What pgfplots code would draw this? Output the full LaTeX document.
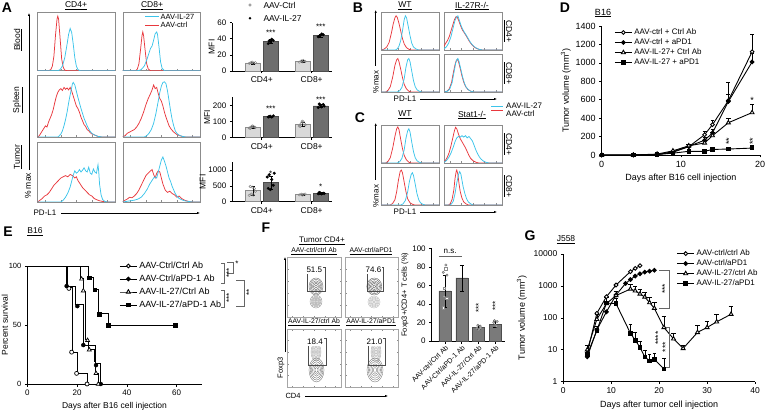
\documentclass[border=0pt]{standalone}
\usepackage{fontspec}
\setmainfont{Liberation Sans}
\usepackage{pgfplots}
\pgfplotsset{compat=1.18}
\usetikzlibrary{arrows.meta}
\definecolor{hred}{HTML}{E8383D}
\definecolor{hcyan}{HTML}{3CC4EA}
\definecolor{lbar}{HTML}{D9D9D9}
\definecolor{dbar}{HTML}{6E6E6E}
\definecolor{fbar}{HTML}{7A7A7A}
\newcommand{\fs}[1]{\fontsize{#1}{#1}\selectfont}
\pgfplotsset{
  every axis/.append style={font=\fs{7.5}, /pgf/number format/assume math mode=true, /pgf/number format/1000 sep={}},
  histo/.style={scale only axis, anchor=south west, xmin=0, xmax=100, ymin=0, ymax=100,
    xtick={10,30,50,70,90}, xticklabels={}, ytick=\empty, major tick length=1.5pt,
    axis line style={black!45}, tick style={black!45, line width=0.3pt}},
  hisred/.style={hred, line width=0.75pt},
  hiscyan/.style={hcyan, line width=0.75pt},
  gp/.style={scale only axis, anchor=south west, axis x line*=bottom, axis y line*=left,
    axis line style={-, line width=0.6pt}, tick style={line width=0.6pt, black}, tick align=outside,
    major tick length=2.5pt, clip=false,
    xticklabel style={font=\fs{8}}, yticklabel style={font=\fs{8}}, label style={font=\fs{8.5}}},
  dl/.style={black, line width=0.9pt, mark size=1.9pt},
  ebar/.style={draw=none, forget plot, error bars/.cd, y dir=both, y explicit, error bar style={black, line width=0.5pt}, error mark options={rotate=90, mark size=2pt, black}},
}
\newcommand{\histo}[6]{%
  \begin{axis}[histo, at={(#1pt,-#2pt)}, width=#3pt, height=#4pt]
  \addplot[hisred] coordinates {#5};
  \addplot[hiscyan] coordinates {#6};
  \end{axis}}
\newcommand{\cbox}[4]{%
  \begin{axis}[histo, at={(#1pt,-#2pt)}, width=#3pt, height=#4pt, ytick={20,40,60,80}, yticklabels={}, axis line style={black!35}]
  \addplot[draw=none] coordinates {(50,50)};
  \end{axis}}
\newcommand{\blob}[5]{%
  \foreach \s in {1,0.84,0.68,0.52,0.36,0.2} {\draw[#5, line width=0.35pt] (#1pt,-#2pt) ellipse [x radius=\s*#3pt, y radius=\s*#4pt];}}
\begin{document}
\begin{tikzpicture}
\useasboundingbox (0pt,0pt) rectangle (766pt,-414pt);
% ================= PANEL A =================
\node[font=\fs{14}\bfseries] at (7pt,-8pt) {A};
\node[font=\fs{8.5}] at (76pt,-6pt) {\underline{CD4+}};
\node[font=\fs{8.5}] at (152pt,-6pt) {\underline{CD8+}};
\node[font=\fs{8.5}, rotate=90] at (18pt,-40pt) {\underline{Blood}};
\node[font=\fs{8.5}, rotate=90] at (18pt,-100pt) {\underline{Spleen}};
\node[font=\fs{8.5}, rotate=90] at (18pt,-157pt) {\underline{Tumor}};
\node[font=\fs{8.5}, rotate=90] at (28pt,-186pt) {\% max};
\draw[-{Latex[length=3pt]}, line width=0.5pt] (29pt,-170pt) -- (29pt,-13pt);
\node[font=\fs{8}] at (45pt,-213pt) {PD-L1};
\draw[-{Latex[length=3pt]}, line width=0.5pt] (61pt,-213pt) -- (200pt,-213pt);
% Blood
\histo{37.7}{70.7}{77.3}{58.7}
 {(0,0)(14,0)(17,2)(19,8)(21,25)(23,60)(25,88)(26,93)(27,88)(29,55)(31,20)(33,6)(35,1)(38,0)(100,0)}
 {(0,0)(26,0)(29,2)(32,8)(35,22)(38,45)(40,62)(42,72)(44,65)(46,45)(48,22)(50,8)(52,2)(55,0)(100,0)}
\histo{122.7}{70.7}{77.3}{58.7}
 {(0,0)(17,0)(19,3)(21,12)(23,35)(25,60)(26,66)(27,60)(29,35)(31,12)(33,3)(36,0)(100,0)}
 {(0,0)(20,0)(24,2)(28,8)(31,18)(34,30)(36,38)(38,42)(40,52)(42,63)(44,66)(45,62)(47,40)(49,15)(51,4)(54,0)(100,0)}
% Spleen
\histo{37.7}{137}{77.3}{62}
 {(0,0)(2,2)(4,6)(6,10)(8,14)(10,18)(12,16)(14,24)(16,30)(18,36)(20,44)(22,55)(24,65)(26,72)(28,76)(30,78)(32,75)(34,80)(36,77)(38,79)(40,76)(42,80)(44,74)(46,66)(48,58)(50,50)(52,46)(54,40)(56,32)(58,26)(60,20)(62,17)(64,12)(66,10)(68,7)(70,5)(74,3)(78,1)(82,0)(100,0)}
 {(0,0)(26,0)(28,2)(30,5)(32,10)(34,18)(36,28)(38,40)(40,55)(42,68)(44,80)(45,86)(46,88)(48,84)(50,74)(52,64)(54,55)(56,46)(58,38)(60,30)(62,24)(64,18)(66,13)(68,9)(70,6)(74,3)(78,1)(84,0)(100,0)}
\histo{122.7}{137}{77.3}{62}
 {(0,0)(3,2)(6,6)(9,8)(12,10)(15,12)(18,16)(21,22)(24,30)(27,40)(30,52)(33,62)(36,70)(38,76)(40,84)(42,78)(44,80)(46,70)(48,62)(50,58)(52,50)(54,40)(56,32)(58,25)(60,18)(63,12)(66,8)(70,4)(74,2)(80,0)(100,0)}
 {(0,0)(28,0)(31,2)(34,6)(37,12)(40,22)(43,38)(46,58)(48,72)(50,82)(52,88)(54,89)(56,86)(58,74)(60,58)(62,42)(64,28)(66,18)(68,10)(70,6)(73,3)(77,1)(82,0)(100,0)}
% Tumor
\histo{37.7}{202}{77.3}{60}
 {(0,0)(3,3)(6,6)(9,10)(12,12)(15,16)(18,22)(21,28)(24,32)(27,36)(30,40)(33,42)(36,44)(39,42)(42,46)(45,44)(48,40)(50,42)(52,36)(55,30)(58,24)(61,20)(64,16)(67,12)(70,10)(73,6)(76,4)(80,2)(84,1)(88,0)(100,0)}
 {(0,0)(30,0)(33,3)(36,8)(39,15)(42,25)(44,35)(46,45)(48,52)(50,48)(52,50)(54,54)(56,50)(58,53)(60,57)(62,52)(64,50)(66,58)(68,48)(70,46)(72,55)(74,50)(76,48)(77,55)(78,62)(79,50)(80,30)(82,12)(84,4)(87,1)(90,0)(100,0)}
\histo{122.7}{202}{77.3}{60}
 {(0,0)(3,3)(6,5)(9,8)(12,7)(15,10)(18,14)(21,20)(24,28)(27,36)(30,44)(33,48)(36,52)(38,54)(40,46)(42,40)(44,48)(46,52)(48,50)(50,40)(52,30)(55,20)(58,16)(61,18)(64,14)(67,12)(70,8)(73,10)(76,6)(80,3)(85,1)(90,0)(100,0)}
 {(0,0)(5,1)(10,2)(15,3)(20,5)(24,8)(28,14)(32,22)(35,30)(38,36)(40,40)(42,42)(44,40)(46,50)(48,60)(50,70)(52,75)(54,68)(56,60)(58,50)(60,40)(62,34)(64,26)(66,20)(68,14)(70,10)(73,6)(76,4)(80,2)(85,1)(90,0)(100,0)}
% A histogram legend
\draw[hcyan, line width=0.8pt] (145pt,-16.7pt) -- (159pt,-16.7pt);
\node[anchor=west, font=\fs{7.5}, inner sep=1pt] at (159.5pt,-16.7pt) {AAV-IL-27};
\draw[hred, line width=0.8pt] (145pt,-25pt) -- (159pt,-25pt);
\node[anchor=west, font=\fs{7.5}, inner sep=1pt] at (159.5pt,-25pt) {AAV-ctrl};
% A bar legend
\draw[black!50, line width=0.5pt] (250pt,-5pt) circle (1.3pt);
\node[anchor=west, font=\fs{8.5}] at (260pt,-5pt) {AAV-Ctrl};
\fill[black] (250pt,-18.3pt) circle (1.4pt);
\node[anchor=west, font=\fs{8.5}] at (260pt,-18.3pt) {AAV-IL-27};
% A bar chart 1
\begin{axis}[gp, at={(232.3pt,-71pt)}, width=99.4pt, height=48.3pt, xmin=-0.59, xmax=1.4, ymin=0, ymax=60,
  ytick={0,20,40,60}, xtick={0,1}, xticklabels={CD4+,CD8+}, xticklabel style={font=\fs{8.5}}, ylabel={MFI}, ylabel shift=-4pt]
\addplot[ybar, bar width=15pt, bar shift=-9pt, fill=lbar, draw=black!45] coordinates {(0,10)(1,12)};
\addplot[ybar, bar width=15pt, bar shift=9pt, fill=dbar, draw=black!70] coordinates {(0,37)(1,44)};
\addplot[ebar] coordinates {(-0.18,10) +- (0,1) (0.82,12) +- (0,1.2) (0.18,37) +- (0,2.5) (1.18,44) +- (0,1.8)};
\addplot[only marks, mark=o, mark size=1.3pt, black!50] coordinates {(-0.25,9.5)(-0.21,10.6)(-0.17,9.8)(-0.13,10.3)(-0.19,10.9)(0.75,11)(0.79,12.6)(0.83,13)(0.87,12)(0.81,11.5)};
\addplot[only marks, mark=*, mark size=1.3pt, black] coordinates {(0.13,34)(0.17,36.5)(0.23,38)(0.2,39.5)(0.15,37.5)(1.13,42.5)(1.17,44)(1.23,45)(1.2,46)(1.15,43)};
\node[font=\fs{8}] at (axis cs:0.18,48) {***};
\node[font=\fs{8}] at (axis cs:1.18,55) {***};
\end{axis}
% A bar chart 2
\begin{axis}[gp, at={(232.3pt,-137.7pt)}, width=99.4pt, height=40.5pt, xmin=-0.59, xmax=1.4, ymin=0, ymax=250,
  ytick={0,100,200}, xtick={0,1}, xticklabels={CD4+,CD8+}, xticklabel style={font=\fs{8.5}}, ylabel={MFI}, ylabel shift=-4pt]
\addplot[ybar, bar width=15pt, bar shift=-9pt, fill=lbar, draw=black!45] coordinates {(0,65)(1,82)};
\addplot[ybar, bar width=15pt, bar shift=9pt, fill=dbar, draw=black!70] coordinates {(0,131)(1,196)};
\addplot[ebar] coordinates {(-0.18,65) +- (0,6) (0.82,82) +- (0,12) (0.18,131) +- (0,4) (1.18,196) +- (0,8)};
\addplot[only marks, mark=o, mark size=1.3pt, black!50] coordinates {(-0.25,60)(-0.21,66)(-0.17,70)(-0.13,63)(-0.19,72)(-0.23,58)(0.75,72)(0.79,88)(0.83,98)(0.87,80)(0.81,102)(0.77,70)};
\addplot[only marks, mark=*, mark size=1.3pt, black] coordinates {(0.13,128)(0.17,133)(0.23,135)(0.2,127)(0.15,131)(1.13,186)(1.17,200)(1.23,205)(1.2,190)(1.15,208)(1.25,195)};
\node[font=\fs{8}] at (axis cs:0.18,180) {***};
\node[font=\fs{8}] at (axis cs:1.18,237) {***};
\end{axis}
% A bar chart 3
\begin{axis}[gp, at={(232.3pt,-201.7pt)}, width=99.4pt, height=39.6pt, xmin=-0.59, xmax=1.4, ymin=0, ymax=1250,
  ytick={0,500,1000}, xtick={0,1}, xticklabels={CD4+,CD8+}, xticklabel style={font=\fs{8.5}}, ylabel={MFI}, ylabel shift=-4pt]
\addplot[ybar, bar width=15pt, bar shift=-9pt, fill=lbar, draw=black!45] coordinates {(0,350)(1,230)};
\addplot[ybar, bar width=15pt, bar shift=9pt, fill=dbar, draw=black!70] coordinates {(0,600)(1,265)};
\addplot[ebar] coordinates {(-0.18,350) +- (0,140) (0.82,230) +- (0,20) (0.18,600) +- (0,210) (1.18,265) +- (0,25)};
\addplot[only marks, mark=o, mark size=1.3pt, black!50] coordinates {(-0.25,200)(-0.21,240)(-0.17,210)(-0.13,330)(-0.19,460)(-0.23,480)(-0.15,420)(0.75,215)(0.79,235)(0.83,225)(0.87,240)(0.81,210)};
\addplot[only marks, mark=*, mark size=1.3pt, black] coordinates {(0.13,420)(0.17,380)(0.23,520)(0.2,700)(0.15,850)(0.25,900)(0.11,780)(1.13,250)(1.17,280)(1.23,270)(1.2,245)(1.15,290)(1.25,260)};
\node[font=\fs{8}] at (axis cs:0.18,880) {*};
\node[font=\fs{8}] at (axis cs:1.18,480) {*};
\end{axis}
% ================= PANEL B / C =================
\node[font=\fs{14}\bfseries] at (358pt,-8pt) {B};
\node[font=\fs{8.5}] at (405pt,-6pt) {\underline{WT}};
\node[font=\fs{8.5}] at (472pt,-6pt) {\underline{IL-27R-/-}};
\node[font=\fs{8.5}, rotate=-90] at (508pt,-31pt) {\underline{CD4+}};
\node[font=\fs{8.5}, rotate=-90] at (508pt,-73pt) {\underline{CD8+}};
\draw[-{Latex[length=3pt]}, line width=0.5pt] (375.7pt,-66pt) -- (375.7pt,-10pt);
\node[font=\fs{8}, rotate=90] at (376pt,-82pt) {\%max};
\node[font=\fs{8}] at (405pt,-99pt) {PD-L1};
\draw[-{Latex[length=3pt]}, line width=0.5pt] (420pt,-99pt) -- (497pt,-99pt);
\histo{381}{50}{58}{38}
 {(0,0)(5,2)(10,8)(14,20)(18,45)(21,68)(24,85)(26,90)(28,86)(31,70)(34,50)(37,30)(40,16)(44,6)(48,2)(52,0)(100,0)}
 {(0,0)(25,0)(28,3)(31,10)(34,25)(37,50)(40,80)(42,90)(44,85)(47,62)(50,38)(53,18)(56,8)(60,3)(65,0)(100,0)}
\histo{444}{50}{58}{38}
 {(0,10)(3,18)(6,25)(9,35)(12,50)(15,65)(18,80)(21,88)(23,86)(26,75)(29,62)(32,52)(35,45)(38,38)(41,30)(44,22)(48,14)(52,8)(56,4)(60,2)(66,0)(100,0)}
 {(0,3)(4,8)(8,18)(12,35)(16,60)(19,78)(22,88)(24,90)(26,80)(29,66)(32,55)(35,47)(38,40)(41,32)(44,24)(48,15)(52,9)(56,5)(60,2)(66,0)(100,0)}
\histo{381}{92}{58}{38}
 {(0,0)(8,0)(12,4)(16,14)(20,38)(24,70)(27,85)(29,88)(31,80)(34,60)(37,38)(40,20)(44,8)(48,2)(52,0)(100,0)}
 {(0,0)(28,0)(32,3)(36,12)(40,35)(43,65)(46,85)(48,88)(50,80)(53,55)(56,30)(59,14)(62,6)(66,2)(70,0)(100,0)}
\histo{444}{92}{58}{38}
 {(0,0)(5,2)(9,8)(13,25)(16,50)(19,72)(21,82)(23,86)(25,80)(28,62)(31,42)(34,26)(37,15)(41,7)(45,3)(50,0)(100,0)}
 {(0,0)(6,2)(10,8)(14,25)(17,50)(20,75)(22,85)(24,88)(26,80)(29,60)(32,40)(35,24)(38,13)(42,6)(46,2)(52,0)(100,0)}
% legend B/C
\draw[hcyan, line width=0.8pt] (491pt,-106pt) -- (503pt,-106pt);
\node[anchor=west, font=\fs{8}, inner sep=1pt] at (505pt,-106pt) {AAV-IL-27};
\draw[hred, line width=0.8pt] (491pt,-110pt) -- (503pt,-110pt);
\node[anchor=west, font=\fs{8}, inner sep=1pt] at (505pt,-114pt) {AAV-ctrl};
% C
\node[font=\fs{14}\bfseries] at (360pt,-118pt) {C};
\node[font=\fs{8.5}] at (405pt,-115pt) {\underline{WT}};
\node[font=\fs{8.5}] at (472pt,-115pt) {\underline{Stat1-/-}};
\node[font=\fs{8.5}, rotate=-90] at (508pt,-144pt) {\underline{CD4+}};
\node[font=\fs{8.5}, rotate=-90] at (508pt,-186pt) {\underline{CD8+}};
\draw[-{Latex[length=3pt]}, line width=0.5pt] (375.7pt,-180pt) -- (375.7pt,-123pt);
\node[font=\fs{8}, rotate=90] at (376pt,-196pt) {\%max};
\node[font=\fs{8}] at (405pt,-212pt) {PD-L1};
\draw[-{Latex[length=3pt]}, line width=0.5pt] (420pt,-212pt) -- (497pt,-212pt);
\histo{381}{163}{58}{38}
 {(0,0)(8,0)(12,4)(16,14)(20,38)(24,70)(27,90)(29,95)(31,88)(34,62)(37,38)(40,20)(44,8)(48,2)(52,0)(100,0)}
 {(0,0)(28,0)(32,3)(36,12)(40,35)(43,65)(46,85)(48,90)(50,82)(53,55)(56,30)(59,14)(62,6)(66,2)(70,0)(100,0)}
\histo{444}{163}{58}{38}
 {(0,3)(3,8)(6,16)(9,28)(12,45)(15,65)(18,85)(20,94)(22,90)(25,76)(28,64)(31,56)(34,48)(37,40)(40,30)(43,20)(46,12)(50,6)(55,2)(60,0)(100,0)}
 {(0,2)(4,6)(8,14)(12,26)(16,42)(19,56)(22,66)(25,70)(28,68)(31,72)(34,68)(37,72)(40,66)(43,70)(46,64)(49,58)(52,46)(55,34)(58,24)(61,16)(64,10)(68,5)(72,2)(78,0)(100,0)}
\histo{381}{205}{58}{38}
 {(0,0)(16,0)(20,4)(24,14)(27,35)(30,65)(33,88)(35,92)(37,85)(40,60)(43,35)(46,16)(50,6)(54,2)(58,0)(100,0)}
 {(0,0)(34,0)(38,3)(42,12)(46,35)(49,62)(52,80)(54,85)(56,78)(59,55)(62,30)(65,14)(68,6)(72,2)(76,0)(100,0)}
\histo{444}{205}{58}{38}
 {(0,0)(8,0)(11,4)(14,15)(17,40)(19,70)(21,88)(22,92)(24,80)(26,55)(28,35)(31,18)(34,8)(38,3)(42,0)(100,0)}
 {(0,0)(10,0)(13,3)(16,10)(19,30)(22,58)(25,80)(27,88)(29,82)(31,65)(33,48)(36,30)(39,16)(42,8)(46,3)(50,0)(100,0)}
% ================= PANEL D =================
\node[font=\fs{14}\bfseries] at (565pt,-8pt) {D};
\node[font=\fs{9}] at (603pt,-13pt) {\underline{B16}};
\begin{axis}[gp, at={(601.7pt,-155pt)}, width=158.3pt, height=129pt, xmin=0, xmax=20, ymin=0, ymax=1400,
  xtick={0,10,20}, ytick={0,200,...,1400}, xlabel={Days after B16 cell injection}, ylabel={Tumor volume (mm\textsuperscript{3})},
  xticklabel style={font=\fs{9}}, yticklabel style={font=\fs{9}}, label style={font=\fs{9}}, ylabel shift=-2pt,
  legend style={draw=none, fill=none, at={(0.06,1.01)}, anchor=north west, font=\fs{8}, row sep=-1.3pt}, legend cell align=left]
\addplot[dl, mark=*, mark options={fill=white}, error bars/.cd, y dir=plus, y explicit, error bar style={line width=0.5pt}] coordinates {(0,0)+-(0,0) (4,0)+-(0,0) (7,5)+-(0,3) (9,30)+-(0,10) (11,90)+-(0,20) (13,220)+-(0,40) (14,330)+-(0,50) (16,590)+-(0,200) (19,1120)+-(0,190)};
\addlegendentry{AAV-ctrl + Ctrl Ab}
\addplot[dl, mark=*, error bars/.cd, y dir=plus, y explicit, error bar style={line width=0.5pt}] coordinates {(0,0)+-(0,0) (4,0)+-(0,0) (7,5)+-(0,3) (9,35)+-(0,10) (11,95)+-(0,20) (13,160)+-(0,30) (14,240)+-(0,40) (16,580)+-(0,80) (19,1010)+-(0,100)};
\addlegendentry{AAV-ctrl + aPD1}
\addplot[dl, mark=triangle*, mark size=2.3pt, mark options={fill=white}, error bars/.cd, y dir=plus, y explicit, error bar style={line width=0.5pt}] coordinates {(0,0)+-(0,0) (4,0)+-(0,0) (7,10)+-(0,3) (9,45)+-(0,10) (11,100)+-(0,20) (13,130)+-(0,30) (14,210)+-(0,40) (16,350)+-(0,50) (19,460)+-(0,90)};
\addlegendentry{AAV-IL-27+ Ctrl Ab}
\addplot[dl, mark=square*, mark size=1.7pt, error bars/.cd, y dir=plus, y explicit, error bar style={line width=0.5pt}] coordinates {(0,0)+-(0,0) (4,0)+-(0,0) (7,5)+-(0,2) (9,20)+-(0,5) (11,40)+-(0,8) (13,40)+-(0,10) (14,60)+-(0,12) (16,65)+-(0,15) (19,75)+-(0,30)};
\addlegendentry{AAV-IL-27 + aPD1}
\node[font=\fs{9}] at (axis cs:19,590) {*};
\node[font=\fs{9}, rotate=90] at (axis cs:16.1,150) {**};
\node[font=\fs{9}, rotate=90] at (axis cs:19.1,150) {**};
\end{axis}
% ================= PANEL E =================
\node[font=\fs{14}\bfseries] at (8pt,-232pt) {E};
\node[font=\fs{8.5}] at (35pt,-232pt) {\underline{B16}};
\begin{axis}[gp, at={(27.3pt,-384pt)}, width=174.3pt, height=118pt, xmin=0, xmax=70, ymin=0, ymax=100,
  xtick={0,20,40,60}, ytick={0,50,100}, xlabel={Days after B16 cell injection}, ylabel={Percent survival},
  yticklabel style={font=\fs{7.5}}, ylabel shift=-6pt,
  legend style={draw=none, fill=none, at={(0.51,1.07)}, anchor=north west, font=\fs{9}, row sep=1pt}, legend cell align=left]
\addlegendimage{dl, mark=*, mark options={fill=white}}
\addlegendentry{AAV-Ctrl/Ctrl Ab}
\addlegendimage{dl, mark=*}
\addlegendentry{AAV-Ctrl/aPD-1 Ab}
\addlegendimage{dl, mark=triangle*, mark size=2.3pt, mark options={fill=white}}
\addlegendentry{AAV-IL-27/Ctrl Ab}
\addlegendimage{dl, mark=square*, mark size=1.8pt}
\addlegendentry{AAV-IL-27/aPD-1 Ab}
\addplot[black, line width=1pt, forget plot] coordinates {(0,100)(16,100)(16,82)(18,82)(18,27)(20,27)(20,9)(24,9)(24,0)};
\addplot[black, line width=1pt, forget plot] coordinates {(0,100)(15.8,100)(15.8,83)(19.5,83)(19.5,67)(22.5,67)(22.5,33)(27.5,33)(27.5,17)(29.5,17)(29.5,0)};
\addplot[black, line width=1pt, forget plot] coordinates {(0,100)(21.5,100)(21.5,89)(22.5,89)(22.5,78)(23.5,78)(23.5,38)(24.5,38)(24.5,29)(27,29)(27,19)(27.5,19)(27.5,9)(28.5,9)(28.5,0)};
\addplot[black, line width=1pt, forget plot] coordinates {(0,100)(24.5,100)(24.5,90)(26.5,90)(26.5,80)(28.5,80)(28.5,60)(32.5,60)(32.5,50)(60,50)};
\addplot[only marks, mark=*, mark size=2pt, mark options={fill=white, line width=0.7pt}, forget plot] coordinates {(16.7,81)(17.8,27)(19.8,9)(24,0)};
\addplot[only marks, mark=*, mark size=2pt, forget plot] coordinates {(15.8,83)(20.1,66)(22.5,33)(27.6,16)(29.5,0)};
\addplot[only marks, mark=triangle*, mark size=2.3pt, mark options={fill=white, line width=0.7pt}, forget plot] coordinates {(21.8,89)(22.5,79)(24.2,37)(24.9,29)(27.6,9)(28.5,0)};
\addplot[only marks, mark=square*, mark size=1.8pt, forget plot] coordinates {(24.9,90)(27,80)(28.8,59)(32.5,50)(59.3,50)};
\end{axis}
\begin{scope}[black!60, line width=0.4pt]
\draw (221pt,-263pt) -- (224pt,-263pt) -- (224pt,-283pt) -- (221pt,-283pt);
\draw (227pt,-262pt) -- (233pt,-262pt) -- (233pt,-273pt) -- (227pt,-273pt);
\draw (221pt,-290pt) -- (224pt,-290pt) -- (224pt,-307pt) -- (221pt,-307pt);
\draw (236pt,-280pt) -- (244pt,-280pt) -- (244pt,-306pt) -- (236pt,-306pt);
\end{scope}
\node[font=\fs{8}, rotate=90] at (229pt,-273pt) {***};
\node[font=\fs{8}] at (237pt,-264pt) {*};
\node[font=\fs{8}, rotate=90] at (229pt,-298pt) {***};
\node[font=\fs{8}, rotate=90] at (249pt,-292pt) {**};
% ================= PANEL F =================
\node[font=\fs{14}\bfseries] at (266pt,-228pt) {F};
\node[font=\fs{8}] at (322pt,-241pt) {\underline{Tumor CD4+}};
\node[font=\fs{6.8}] at (314pt,-251pt) {\underline{AAV-ctrl/ctrl Ab}};
\node[font=\fs{6.8}] at (371pt,-251pt) {\underline{AAV-ctrl/aPD1}};
\node[font=\fs{6.8}] at (314pt,-322.5pt) {\underline{AAV-IL-27/ctrl Ab}};
\node[font=\fs{6.8}] at (371pt,-322.5pt) {\underline{AAV-IL-27/aPD1}};
\cbox{287}{317}{54}{60}
\cbox{345}{317}{53}{60}
\cbox{287}{387}{54}{58}
\cbox{345}{387}{53}{58}
\blob{316}{286.5}{7}{8.5}{black!62}
\blob{316}{301.5}{6}{6.5}{black!45}
\blob{374.3}{286.5}{7.5}{8.5}{black!68}
\blob{374}{302}{6}{6}{black!30}
\blob{316}{352}{5}{9}{black!35}
\blob{316.5}{370}{7.5}{12}{black!58}
\blob{376}{352}{5}{10}{black!35}
\blob{375}{370}{8}{12}{black!55}
\begin{scope}[black!70, line width=0.45pt]
\draw (307.7pt,-267.7pt) rectangle (325.7pt,-291.7pt);
\draw (367.7pt,-267.7pt) rectangle (383.3pt,-291.7pt);
\draw (308.3pt,-338.3pt) rectangle (326.7pt,-365pt);
\draw (368.3pt,-338.3pt) rectangle (385pt,-365pt);
\end{scope}
\node[font=\fs{8}, fill=white, inner sep=0.8pt] at (314.3pt,-270pt) {51.5};
\node[font=\fs{8}, fill=white, inner sep=0.8pt] at (373.5pt,-270pt) {74.6};
\node[font=\fs{8}, fill=white, inner sep=0.8pt] at (315pt,-342pt) {18.4};
\node[font=\fs{8}, fill=white, inner sep=0.8pt] at (374.5pt,-342pt) {21.0};
\draw[-{Latex[length=3pt]}, line width=0.5pt] (285pt,-352pt) -- (285pt,-257pt);
\node[font=\fs{7.5}, rotate=90] at (281pt,-368pt) {Foxp3};
\node[font=\fs{7.5}] at (293pt,-396pt) {CD4};
\draw[-{Latex[length=3pt]}, line width=0.5pt] (305pt,-396pt) -- (388pt,-396pt);
\begin{axis}[gp, at={(431.7pt,-341pt)}, width=73.3pt, height=92.7pt, xmin=-0.79, xmax=3.57, ymin=0, ymax=100,
  ytick={0,20,...,100}, xtick={0,1,2,3},
  xticklabels={AAV-ctrl/Ctrl Ab,AAV-Ctrl/aPD-1 Ab,AAV-IL-27/Ctrl Ab,AAV-IL-27/aPD-1 Ab},
  xticklabel style={rotate=45, anchor=north east, font=\fs{7}, inner sep=1pt},
  ylabel={Foxp3+/CD4+ T cells (\%)}, ylabel style={font=\fs{7.5}}, ylabel shift=-3pt]
\addplot[ybar, bar width=12pt, fill=fbar, draw=black!70] coordinates {(0,54)(1,68)(2,15)(3,18)};
\addplot[ebar] coordinates {(0,54) +- (0,17) (1,68) +- (0,14) (2,15) +- (0,2) (3,18) +- (0,3)};
\addplot[only marks, mark=square*, mark size=1.2pt, mark options={fill=white, draw=black!45}] coordinates {(0.05,78)(-0.05,57)(0.1,46)(-0.1,36)};
\addplot[only marks, mark=*, mark size=1.2pt, mark options={fill=black!25, draw=black!55}] coordinates {(0.05,82)(-0.1,74)(0.12,71)(-0.05,48)(2.0,12)(1.9,14)(2.1,16)(2.05,13)(1.95,17)(2.12,14)(3.0,17)(2.9,20)(3.1,21)(3.05,16)(2.95,22)};
\draw[black!60] (axis cs:-0.36,92) -- (axis cs:0.99,92);
\node[font=\fs{8}] at (axis cs:0.3,97) {n.s.};
\node[font=\fs{8}, rotate=90] at (axis cs:2,36) {***};
\node[font=\fs{8}, rotate=90] at (axis cs:3,38) {***};
\end{axis}
% ================= PANEL G =================
\node[font=\fs{14}\bfseries] at (530pt,-236pt) {G};
\node[font=\fs{8.5}] at (566pt,-240pt) {\underline{J558}};
\begin{axis}[gp, at={(563.3pt,-381.7pt)}, width=191.7pt, height=127.7pt, xmin=0, xmax=40, ymode=log, ymin=1, ymax=10000,
  ytick={1,10,100,1000,10000}, yticklabels={1,10,100,1000,10000}, yminorticks=false, xtick={0,10,20,30,40},
  xticklabel style={font=\fs{8.5}}, yticklabel style={font=\fs{8.5}}, label style={font=\fs{9}},
  xlabel={Days after tumor cell injection}, ylabel={Tumor volume (mm\textsuperscript{3})},
  legend style={draw=none, fill=none, at={(0.575,1.065)}, anchor=north west, font=\fs{8}, row sep=-1.3pt}, legend cell align=left]
\addplot[dl, mark=*, mark options={fill=white}] coordinates {(5,8)(7,139)(9,460)(11,1070)(14,2800)(15,3550)(16,4300)};
\addlegendentry{AAV-ctrl/ctrl Ab}
\addplot[dl, mark=*] coordinates {(5,6)(7,42)(9,155)(11,520)(13,1200)(14,1580)(15,2040)(16,2400)(17,2700)(18,2900)(19,3100)};
\addlegendentry{AAV-ctrl/aPD1}
\addplot[dl, mark=triangle*, mark size=2.3pt, mark options={fill=white}, error bars/.cd, y dir=plus, y explicit, error bar style={line width=0.5pt}] coordinates {(5,10)+-(0,4) (7,90)+-(0,40) (9,280)+-(0,150) (11,500)+-(0,200) (14,800)+-(0,300) (15,700)+-(0,250) (16,560)+-(0,250) (17,450)+-(0,200) (18,300)+-(0,150) (19,200)+-(0,100) (21,50)+-(0,60) (23,22)+-(0,12) (25,11)+-(0,3) (28,35)+-(0,22) (30,50)+-(0,30) (32,75)+-(0,55) (35,130)+-(0,110)};
\addlegendentry{AAV-IL-27/ctrl Ab}
\addplot[dl, mark=square*, mark size=1.8pt, error bars/.cd, y dir=plus, y explicit, error bar style={line width=0.5pt}] coordinates {(5,7)+-(0,3) (7,40)+-(0,15) (9,290)+-(0,150) (11,280)+-(0,120) (14,33)+-(0,30) (15,20)+-(0,15) (16,12)+-(0,6) (17,6)+-(0,4) (18,4.5)+-(0,3) (19,5)+-(0,3) (21,2.5)+-(0,3)};
\addlegendentry{AAV-IL-27/aPD1}
\draw[black!60, line width=0.45pt] (axis cs:20,3000) -- (axis cs:22.2,3000) -- (axis cs:22.2,200) -- (axis cs:20,200);
\draw[black!60, line width=0.45pt] (axis cs:21,50) -- (axis cs:22.2,50) -- (axis cs:22.2,2.8) -- (axis cs:21.5,2.8);
\node[font=\fs{8.5}, rotate=90] at (axis cs:21.2,800) {***};
\node[font=\fs{8.5}, rotate=90] at (axis cs:19.8,23) {****};
\node[font=\fs{8.5}, rotate=90] at (axis cs:21.3,12) {***};
\end{axis}
\end{tikzpicture}
\end{document}
